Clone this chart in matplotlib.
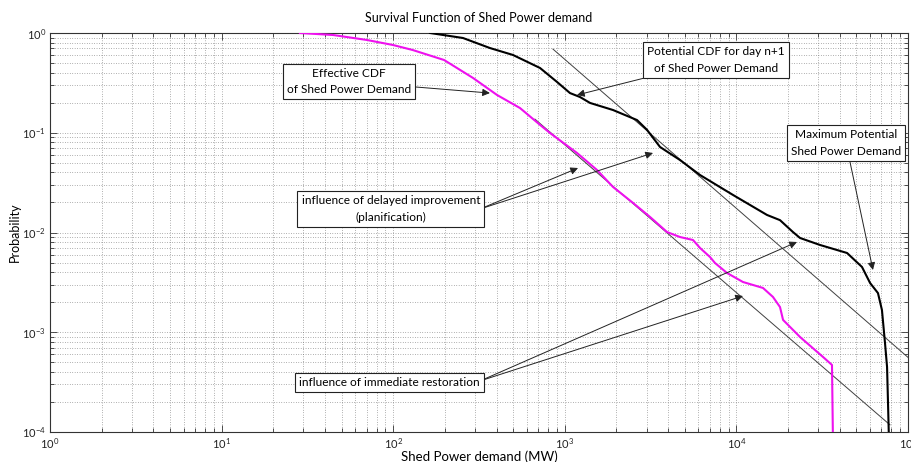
import matplotlib
matplotlib.use("Agg")
import matplotlib.pyplot as plt
from matplotlib.ticker import LogLocator, NullFormatter

plt.rcParams['font.family'] = ['Lato', 'DejaVu Sans']
plt.rcParams['mathtext.fontset'] = 'custom'
plt.rcParams['mathtext.rm'] = 'Lato'
plt.rcParams['mathtext.it'] = 'Lato:italic'

# ---- data ----
effective_x = [28.6, 44.6, 70.3, 99.7, 130, 198, 292, 403, 548, 717, 820, 1178, 1541,
               1910, 2497, 3140, 3945, 4690, 5585, 6138, 7015, 7500, 8813, 10920,
               14290, 16330, 17950, 18700, 23490, 31980, 36060, 36540]
effective_p = [1.0, 0.955, 0.851, 0.758, 0.675, 0.536, 0.354, 0.239, 0.177, 0.120,
               0.0994, 0.0627, 0.0423, 0.0286, 0.0198, 0.0143, 0.0101, 0.00901,
               0.00841, 0.00700, 0.00568, 0.00495, 0.00393, 0.00319, 0.00278,
               0.00226, 0.00179, 0.00133, 0.000896, 0.000565, 0.000470, 0.00008]

maximum_x = [164, 255, 366, 499, 717, 901, 1072, 1227, 1403, 1910, 2636, 3013, 3589,
             4690, 6138, 9550, 15070, 17950, 21370, 23490, 30700, 44150, 53950,
             60100, 66830, 70500, 73450, 75500, 76400, 77500]
maximum_p = [1.0, 0.891, 0.707, 0.602, 0.446, 0.323, 0.250, 0.228, 0.199, 0.169,
             0.134, 0.107, 0.0720, 0.0533, 0.0377, 0.0238, 0.0150, 0.0133, 0.0101,
             0.00881, 0.00750, 0.00623, 0.00451, 0.00312, 0.00247, 0.00167,
             0.000780, 0.000449, 0.000209, 0.00008]

potential_x = [853, 100000]
potential_p = [0.69, 0.00056]

restoration_x = [670, 78500]
restoration_p = [0.137, 0.000118]

title = "Survival Function of Shed Power demand"
xlabel = "Shed Power demand (MW)"
ylabel = "Probability"

# ---- figure ----
fig = plt.figure(figsize=(9.12, 4.62), dpi=100)
ax = fig.add_axes([50/912, 1-432/462, 858/912, 399/462])
ax.set_xscale('log')
ax.set_yscale('log')
ax.set_xlim(1, 1e5)
ax.set_ylim(1e-4, 1)

ax.plot(potential_x, potential_p, color='#404040', lw=0.7, zorder=3)
ax.plot(restoration_x, restoration_p, color='#404040', lw=0.7, zorder=3)
ax.plot(maximum_x, maximum_p, color='black', lw=1.5, zorder=4)
ax.plot(effective_x, effective_p, color='#ee11ee', lw=1.5, zorder=4)

ax.xaxis.set_major_locator(LogLocator(base=10, numticks=10))
ax.xaxis.set_minor_locator(LogLocator(base=10, subs=range(2, 10), numticks=20))
ax.yaxis.set_major_locator(LogLocator(base=10, numticks=10))
ax.yaxis.set_minor_locator(LogLocator(base=10, subs=range(2, 10), numticks=20))
ax.xaxis.set_minor_formatter(NullFormatter())
ax.yaxis.set_minor_formatter(NullFormatter())

ax.grid(True, which='both', linestyle=(0, (1, 2.5)), color='#666666', lw=0.5)
ax.tick_params(which='both', direction='in', top=True, right=True, labelsize=8,
               colors='#333333', labelcolor='#222222')
ax.tick_params(which='major', length=5, width=0.6, pad=3)
ax.tick_params(which='minor', length=3, width=0.6)
for s in ax.spines.values():
    s.set_linewidth(0.8)
    s.set_color('#333333')

ax.set_title(title, fontsize=9, pad=8)
ax.set_xlabel(xlabel, fontsize=9.5, labelpad=0)
ax.set_ylabel(ylabel, fontsize=9, labelpad=1)

box = dict(boxstyle='square,pad=0.35', fc='white', ec='#222222', lw=0.8)
arr = dict(arrowstyle='-|>', color='#222222', lw=0.7, mutation_scale=11, shrinkA=0, shrinkB=0)
fs = 8.6

ax.annotate("Effective CDF\nof Shed Power Demand", xy=(366, 0.250), xytext=(55.3, 0.326),
            ha='center', va='center', fontsize=fs, bbox=box, arrowprops=arr, zorder=6,
            linespacing=1.6)
ax.annotate("Potential CDF for day n+1\nof Shed Power Demand", xy=(1178, 0.239),
            xytext=(7600, 0.536), ha='center', va='center', fontsize=fs, bbox=box,
            arrowprops=arr, zorder=6, linespacing=1.6)
ax.annotate("Maximum Potential\nShed Power Demand", xy=(62500, 0.00421),
            xytext=(43500, 0.0789), ha='center', va='center', fontsize=fs, bbox=box,
            arrowprops=arr, zorder=6, linespacing=1.6)

ax.text(97, 0.0172, "influence of delayed improvement\n(planification)", ha='center',
        va='center', fontsize=fs, bbox=box, zorder=6, linespacing=1.6)
ax.annotate("", xy=(1194, 0.0443), xytext=(320.6, 0.0172), arrowprops=arr, zorder=5)
ax.annotate("", xy=(3266, 0.0627), xytext=(320.6, 0.0172), arrowprops=arr, zorder=5)

ax.text(95.2, 3.13e-4, "influence of immediate restoration", ha='center', va='center',
        fontsize=fs, bbox=box, zorder=6)
ax.annotate("", xy=(22540, 0.00803), xytext=(320.6, 3.25e-4), arrowprops=arr, zorder=5)
ax.annotate("", xy=(10920, 0.00231), xytext=(320.6, 3.25e-4), arrowprops=arr, zorder=5)

fig.savefig("out.png", dpi=100)
